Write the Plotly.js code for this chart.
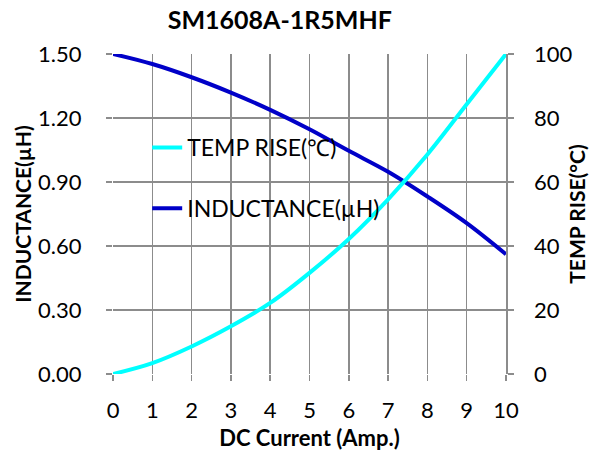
<!DOCTYPE html>
<html>
<head>
<meta charset="utf-8">
<script src="https://cdn.plot.ly/plotly-3.0.1.min.js"></script>
<style>html,body{margin:0;padding:0;background:#fff;}#chart{width:589px;height:459px;}</style>
</head>
<body>
<div id="chart"></div>
<script>
const current = [0, 1, 2, 3, 4, 5, 6, 7, 8, 9, 10];
const inductance = [1.50, 1.453, 1.391, 1.319, 1.238, 1.147, 1.046, 0.948, 0.832, 0.707, 0.561];
const tempRise = [0, 3.4, 8.6, 14.9, 22.2, 31.6, 42.2, 54.6, 68.6, 84.3, 100];
const leftTicks = [0, 0.3, 0.6, 0.9, 1.2, 1.5];
const leftTickText = ["0.00", "0.30", "0.60", "0.90", "1.20", "1.50"];
const rightTicks = [0, 20, 40, 60, 80, 100];

const FONT = "Lato, 'Open Sans', sans-serif";
const GRID = "#8c8c8c";

const traces = [
  {
    x: current, y: inductance, name: "INDUCTANCE(\u00b5H)", type: "scatter", mode: "lines",
    line: {color: "#0000c8", width: 4, shape: "spline"}, yaxis: "y", legendgroup: "b", legendrank: 2
  },
  {
    x: current, y: tempRise, name: "TEMP RISE(\u2103)", type: "scatter", mode: "lines",
    line: {color: "#00ffff", width: 4, shape: "spline"}, yaxis: "y2", legendgroup: "a", legendrank: 1
  }
];

const layout = {
  width: 589, height: 459,
  margin: {l: 113, r: 83, t: 54, b: 85},
  paper_bgcolor: "#fff", plot_bgcolor: "#fff",
  font: {family: FONT, color: "#000", size: 22},
  title: {text: "<b>SM1608A-1R5MHF</b>", font: {family: FONT, size: 25, color: "#000"}, x: 0.475, xanchor: "center", y: 0.956, yanchor: "middle"},
  showlegend: true,
  legend: {x: 0.087, y: 0.775, xanchor: "left", yanchor: "top", bgcolor: "rgba(0,0,0,0)", font: {family: FONT, size: 23, color: "#000"}, tracegroupgap: 28, traceorder: "grouped"},
  xaxis: {
    range: [0, 10], tickvals: current, ticks: "outside", ticklen: 6, tickcolor: GRID, tickwidth: 1.5,
    showgrid: true, gridcolor: GRID, gridwidth: 1.5, zeroline: false, showline: false,
    tickfont: {family: FONT, size: 22}, ticklabelstandoff: 11,
    title: {text: "<b>DC Current (Amp.)</b>", font: {family: FONT, size: 22}, standoff: 8}
  },
  yaxis: {
    range: [0, 1.5], tickvals: leftTicks, ticktext: leftTickText, ticks: "outside", ticklen: 6, tickcolor: GRID, tickwidth: 1.5,
    showgrid: true, gridcolor: GRID, gridwidth: 1.5, zeroline: false, showline: false,
    tickfont: {family: FONT, size: 22}, ticklabelstandoff: 20,
    title: {text: "<b>INDUCTANCE(\u00b5H)</b>", font: {family: FONT, size: 21}, standoff: 0}
  },
  yaxis2: {
    range: [0, 100], tickvals: rightTicks, overlaying: "y", side: "right", ticks: "outside", ticklen: 6, tickcolor: GRID, tickwidth: 1.5,
    showgrid: false, zeroline: false, showline: true, linecolor: GRID, linewidth: 1.5,
    tickfont: {family: FONT, size: 22}, ticklabelstandoff: 16,
    title: {text: "<b>TEMP RISE(\u00b0C)</b>", font: {family: FONT, size: 21}, standoff: 2}
  }
};

Plotly.newPlot("chart", traces, layout, {displayModeBar: false, staticPlot: true});
</script>
</body>
</html>
